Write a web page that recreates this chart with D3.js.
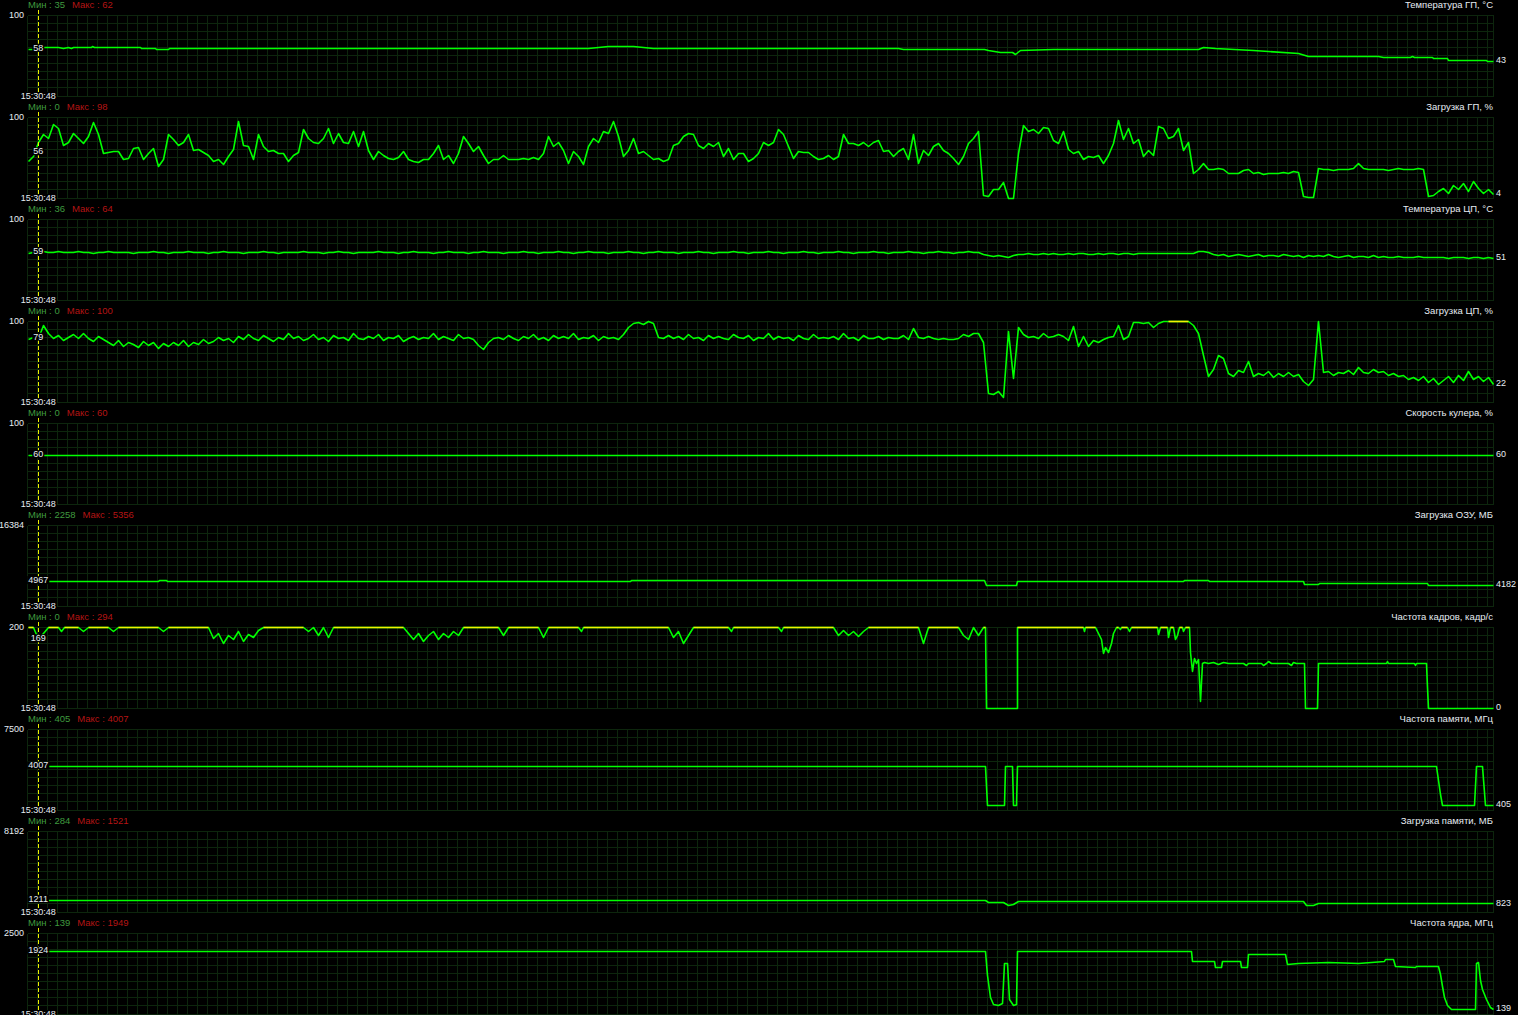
<!DOCTYPE html>
<html><head><meta charset="utf-8">
<script src="https://cdn.jsdelivr.net/npm/d3@7"></script>
<style>
html,body{margin:0;padding:0;background:#000;overflow:hidden}
svg{display:block}
text{font-family:"Liberation Sans",Arial,sans-serif;font-size:9.5px}
text.num{font-size:9px}
</style></head><body>
<svg id="chart" width="1518" height="1015"></svg>
<script>
// ---------------- DATA ----------------
const titles = ["Температура ГП, °C","Загрузка ГП, %","Температура ЦП, °C","Загрузка ЦП, %","Скорость кулера, %",
  "Загрузка ОЗУ, МБ","Частота кадров, кадр/с","Частота памяти, МГц","Загрузка памяти, МБ","Частота ядра, МГц"];
const scaleMax = [100,100,100,100,100,16384,200,7500,8192,2500];
const minVals = [35,0,36,0,0,2258,0,405,284,139];
const maxVals = [62,98,64,100,60,5356,294,4007,1521,1949];
const cursorVals = [58,56,59,79,60,4967,169,4007,1211,1924];
const currentVals = [43,4,51,22,60,4182,0,405,823,139];
const timeLabel = "15:30:48";
const timeDomain = [0,293];   // seconds shown
const cursorTime = 2.06;

// breakpoint series [t, value]
const gpuTemp = [[0,57],[2,58],[3,60],[6,60],[7,59],[8,60],[8.6,59],[9,60],[12.6,60],[12.8,61],[13.2,60],[22.4,60],[22.6,59],[25.4,59],[25.6,58],[28,58],[28.2,59],[112,59],[114,60],[116,61],[121,61],[123,60],[125,59],[174,59],[175,58],[191.2,58],[192,56],[194.4,54],[196.8,54],[197.4,51],[198.4,56],[205,57],[220,58],[234,58],[235,60],[237.4,59],[245,56],[254,53],[256,49],[270,49],[271,48],[276.4,48],[276.8,49],[277.2,48],[280.8,48],[281,46],[283.8,46],[284,44],[291.6,44],[291.8,43],[293,43]];

// uniform series, one value per second
const gpuLoad = [45,51,68,78,73,91,86,65,68,80,73,67,76,93,78,55,56,58,57,47,49,61,62,47,55,61,39,47,78,72,65,69,79,59,60,56,53,45,47,41,51,60,94,65,63,47,78,63,57,59,55,55,45,53,56,84,73,69,67,73,86,67,80,69,67,82,63,82,59,47,57,53,49,47,50,57,47,45,44,47,48,55,65,48,52,43,55,76,67,57,63,53,43,47,48,53,47,
48,48,49,48,50,47,55,76,63,69,59,43,57,51,41,63,74,69,82,80,94,76,51,59,74,55,57,53,48,49,45,47,65,67,76,80,78,65,61,67,63,69,51,61,47,55,55,45,49,55,69,65,69,84,78,63,49,57,56,56,51,47,49,53,48,51,78,67,67,65,69,63,69,71,57,59,51,57,61,47,78,43,59,53,63,67,59,55,49,41,51,67,74,82,
3,2,10,10,19,0,0,55,89,82,85,80,87,86,71,67,82,60,55,57,48,51,50,52,43,53,67,96,72,86,67,72,51,59,52,88,86,74,76,86,59,69,30,35,42,35,35,37,35,30,30,30,34,35,
30,31,29,30,30,30,31,30,33,31,2,1,1,36,35,35,34,35,35,35,36,43,36,35,35,35,35,34,35,36,35,35,35,36,35,2,3,8,12,6,16,10,18,8,20,12,6,10,4];

const cpuTemp = [58,59,59,60,59,59,60,59,59,59,60,59,59,58,59,59,60,59,59,59,59,58,59,59,59,60,59,59,58,59,59,59,60,59,59,59,58,59,59,60,59,59,59,58,59,59,59,60,59,59,58,59,59,59,59,60,59,59,59,58,59,59,60,59,59,58,59,59,59,59,60,59,59,59,58,59,59,60,59,59,59,58,59,59,60,59,59,59,58,59,59,60,59,59,59,58,59,59,59,60,59,59,58,59,59,59,60,59,59,58,59,59,60,59,59,59,58,59,59,59,60,59,59,58,59,59,60,59,59,59,58,59,59,59,60,59,59,58,59,59,59,60,59,59,58,59,59,59,60,59,59,58,59,59,59,60,59,59,58,59,59,59,60,59,59,58,59,59,59,60,59,59,58,59,59,59,60,59,59,58,59,59,60,59,59,58,59,59,60,59,59,
56,55,54,55,54,53,55,
56,56,57,56,56,57,56,57,56,56,57,56,57,57,56,56,57,56,57,57,56,57,57,56,57,57,58,57,57,58,57,57,58,57,58,58,
60,60,59,
56,55,56,54,55,56,55,54,55,56,54,55,55,54,56,55,54,55,53,55,54,55,54,56,54,53,54,55,53,54,54,53,55,53,54,53,52,54,53,52,53,54,52,53,52,53,52,51,53,52,52,51,53,52,51,52,51];

const cpuLoad = [77,80,79,95,84,78,82,76,80,83,78,84,79,75,81,77,73,70,76,68,74,71,67,75,70,73,66,72,69,74,70,76,68,73,71,77,72,75,80,76,79,74,81,77,83,78,76,82,79,75,80,77,84,78,81,76,79,83,77,80,75,82,78,80,76,84,79,77,81,78,83,76,80,78,82,75,79,81,77,80,78,84,77,81,79,76,83,78,80,77,70,65,74,78,80,77,82,79,76,81,78,83,77,80,76,82,79,81,78,84,77,80,79,82,76,81,78,80,77,83,
92,97,98,96,99,97,80,79,82,78,
81,77,83,79,80,76,82,78,81,79,77,83,80,78,82,76,80,79,84,77,81,78,80,76,82,79,77,83,78,80,79,81,77,84,78,80,76,82,79,78,81,77,80,78,79,82,77,91,80,78,81,79,77,
79,77,77,79,83,81,84,85,74,11,9,13,5,87,29,92,83,80,81,79,85,80,81,83,81,76,93,68,81,69,76,74,77,80,81,95,77,81,98,98,97,98,92,97,99,100,100,100,100,100,95,85,58,31,40,58,54,35,32,39,36,50,31,35,
33,38,30,35,32,36,31,34,25,20,28,99,36,38,33,37,35,39,34,42,37,35,40,36,38,33,35,31,33,28,30,26,32,24,29,22,27,31,24,33,26,38,28,32,25,30,22];

const fanSpeed = [[0,60],[293,60]];

const ramUsage = [[0,4967],[26,4967],[26.2,5060],[27.6,5060],[27.8,4967],[120.4,4967],[120.6,5150],[191.2,5150],[191.6,4230],[197.6,4230],[197.8,4900],[231,4950],[231.2,5250],[236,5250],[236.2,5000],[255,5000],[255.2,4400],[258,4400],[258.2,4650],[279.8,4650],[280,4182],[293,4182]];

const frameRate = [[0,230],[1,210],[2,169],[3,185],[4,240],[6,240],[6.6,188],[7.2,240],[10,240],[11,190],[12,240],[16,240],[17,188],[18,240],[26,240],[27,190],[28,240],
[36,240],[37,172],[38,185],[39,160],[40,178],[41,168],[42,190],[43,165],[44,182],[45,175],[46,192],[47,240],
[55,240],[56,190],[57,240],[58,180],[59,240],[60,175],[61,240],
[75,240],[76,185],[77,170],[78,185],[79,165],[80,180],[81,190],[82,170],[83,185],[84,175],[85,190],[86,180],[87,200],[88,240],
[94,240],[95,180],[96,240],[102,240],[103,175],[104,240],[110,240],[110.5,190],[111,240],
[128,240],[129,175],[130,190],[131,160],[132,180],[133,200],[134,240],[140,240],[140.6,188],[141,240],[150,240],[150.6,188],[151,240],
[161,240],[162,180],[163,192],[164,178],[165,188],[166,176],[167,190],[168,240],[178,240],[179,160],[180,240],
[186,240],[187,178],[188,170],[189,200],[190,180],[191,240],[191.4,240],[191.5,0],[197.7,0],[197.8,240],
[211,240],[211.2,190],[211.4,240],[213.5,240],[214.5,170],[215,135],[215.5,150],[216,138],[216.5,160],[217,185],[217.5,240],
[218,240],[218.3,195],[218.6,240],[219.8,240],[220.2,190],[220.6,240],[225.8,240],[226,182],[226.3,240],
[227.8,240],[228,175],[228.5,240],[229,240],[229.4,170],[229.8,180],[230.2,240],[230.8,240],[231,190],[231.4,240],
[232.2,240],[232.4,136],[232.8,90],[233.2,122],[233.6,110],[234,120],[234.4,17],[234.8,110],[235.2,112],[236,110],[237,113],[238,108],[239,112],[240,110],
[243,110],[243.5,104],[244,110],[246.6,110],[247,104],[247.5,110],[248,114],[248.5,110],[252,110],[252.5,105],[253,113],[253.5,110],
[255.2,110],[255.3,0],[257.9,0],[258,110],[271.6,110],[271.8,116],[272,110],[277.2,110],[277.4,104],[277.6,110],
[279.7,110],[279.8,50],[280,0],[293,0]];

const memClock = [[0,4007],[191.4,4007],[191.8,405],[195.2,405],[195.4,4007],[196.8,4007],[197,405],[197.6,405],[197.8,4007],[281.6,4007],[282.4,1400],[282.8,405],[289.2,405],[289.5,4007],[290.8,4007],[291.4,405],[293,405]];

const memUsage = [[0,1211],[191.4,1211],[192,1000],[195,1000],[196,700],[197,760],[198,1080],[255,1080],[255.5,700],[257,700],[258,823],[293,823]];

const coreClock = [[0,1924],[191.4,1924],[191.8,1200],[192.4,500],[193,300],[194,250],[194.8,320],[195.2,1550],[195.8,1550],[196.2,450],[197,260],[197.6,300],[197.8,1924],[232.6,1924],[232.8,1605],[237.2,1605],[237.4,1450],[238.6,1450],[238.8,1605],[242.4,1605],[242.6,1420],[243.8,1420],[244,1850],[251.4,1850],[251.8,1543],[254,1560],[260,1580],[266,1570],[271.2,1610],[271.4,1697],[273,1697],[273.4,1460],[277.4,1450],[277.6,1480],[282,1480],[282.4,1204],[282.8,843],[283.2,494],[283.8,247],[284.6,139],[289.4,139],[289.6,1564],[290,1580],[290.4,1049],[290.8,741],[291.6,450],[292.4,200],[293,139]];

const seriesList = [gpuTemp, gpuLoad, cpuTemp, cpuLoad, fanSpeed, ramUsage, frameRate, memClock, memUsage, coreClock];

// ---------------- DRAW ----------------
const svg = d3.select("#chart");
svg.append("rect").attr("width",1518).attr("height",1015).attr("fill","#000");
const X0 = 28, X1 = 1493, PANEL = 102, TOP0 = 15, PH = 81;
const x = d3.scaleLinear(timeDomain, [X0, X1]);
const px = v => Math.round(v) + 0.5;
const gridColor = "#0d260d";
const white = "#e6ecf2";
const lineGreen = "#00ff00";

function toPoints(s){
  if (typeof s[0] === "number") return s.map((v,i)=>({t:i, v}));
  return s.map(d=>({t:d[0], v:d[1]}));
}

function labelWithBg(g, txt, xPos, baseY, anchor, fill){
  const bg = g.append("rect").attr("fill","#000");
  const t = g.append("text").attr("class","num").attr("x",xPos).attr("y",baseY).attr("text-anchor",anchor).attr("fill",fill).text(txt);
  const b = t.node().getBBox();
  bg.attr("x",b.x-1).attr("y",b.y+1).attr("width",b.width+2).attr("height",b.height-2);
  return t;
}

seriesList.forEach((s,i)=>{
  const top = TOP0 + PANEL*i, bottom = top + PH, mx = scaleMax[i];
  const y = d3.scaleLinear([0,mx],[bottom,top]);
  const g = svg.append("g");

  // grid
  const gg = g.append("g").attr("stroke",gridColor).attr("stroke-width",1).attr("shape-rendering","crispEdges");
  d3.range(11).forEach(k=>{
    const yy = px(top + k*PH/10 - 0.5);
    gg.append("line").attr("x1",X0).attr("x2",X1+1).attr("y1",yy).attr("y2",yy);
  });
  d3.range(0,147).map(k=>27.5+10*k).concat([X1+0.5]).forEach(xx=>{
    gg.append("line").attr("x1",xx).attr("x2",xx).attr("y1",px(top-0.5)).attr("y2",px(bottom-0.5));
  });

  // data line
  const pts = toPoints(s).map(d=>({t:d.t, v:d.v, c:Math.max(0,Math.min(mx,d.v))}));
  const line = d3.line().x(d=>px(x(d.t))).y(d=>px(y(d.c)-0.5));
  g.append("path").attr("d",line(pts)).attr("fill","none").attr("stroke",lineGreen).attr("stroke-width",1.6).attr("stroke-linejoin","round");
  if (pts.some(d=>d.v>=mx)) {
    g.append("path").attr("d",line.defined(d=>d.v>=mx)(pts)).attr("fill","none").attr("stroke","#f2f200").attr("stroke-width",1.6);
  }

  // cursor
  const cx = x(cursorTime);
  g.append("line").attr("x1",px(cx)).attr("x2",px(cx)).attr("y1",top-5).attr("y2",bottom)
    .attr("stroke","#f0f000").attr("stroke-width",1).attr("stroke-dasharray","4,2");

  // header
  const mn = g.append("text").attr("x",X0).attr("y",top-7).attr("fill","#3f9a3f").text("Мин : " + minVals[i]);
  const mnW = mn.node().getComputedTextLength();
  g.append("text").attr("x",X0+mnW+7).attr("y",top-7).attr("fill","#b41414").text("Макс : " + maxVals[i]);
  g.append("text").attr("x",X1).attr("y",top-7).attr("text-anchor","end").attr("fill",white).text(titles[i]);

  // scale top label
  g.append("text").attr("class","num").attr("x",24).attr("y",top+3).attr("text-anchor","end").attr("fill",white).text(mx);

  // time label
  labelWithBg(g, timeLabel, cx, bottom+3, "middle", white);

  // cursor value
  labelWithBg(g, cursorVals[i], cx, y(cursorVals[i]) + 1.7, "middle", white);

  // current value
  g.append("text").attr("class","num").attr("x",X1+3).attr("y",y(currentVals[i]) + 1.7).attr("fill",white).text(currentVals[i]);
});
</script>
</body></html>
